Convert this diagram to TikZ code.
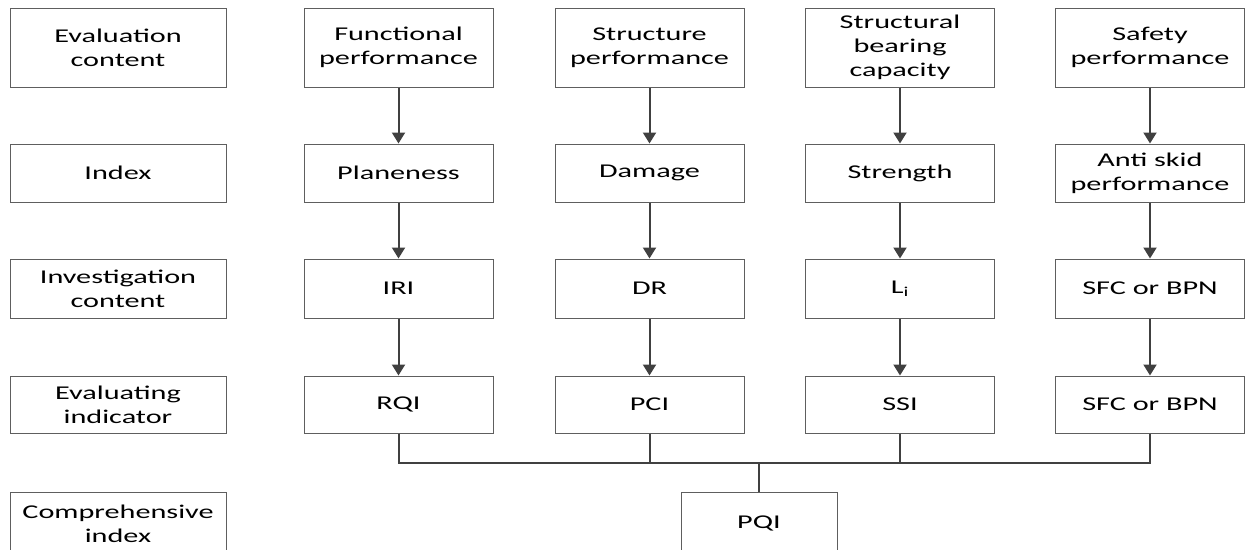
\documentclass[tikz,border=0pt]{standalone}
\usepackage{fontspec}
\setmainfont{Carlito}[FakeStretch=1.55]
\usetikzlibrary{arrows.meta}
\definecolor{boxgray}{HTML}{5E5E5E}
\definecolor{linegray}{HTML}{404040}

\begin{document}
\begin{tikzpicture}[x=1pt,y=-1pt,
    box/.style={draw=boxgray,line width=1pt,minimum width=189pt,inner sep=0pt,
      align=center,font=\fontsize{19.5}{24}\selectfont},
    headbox/.style={box,minimum width=216pt},
    link/.style={draw=linegray,line width=2pt,-{Triangle[length=11pt,width=13pt]}},
    bus/.style={draw=linegray,line width=2pt}
  ]
  \useasboundingbox (0,0) rectangle (1245,549);

  % row titles on the left
  \foreach \y/\h/\lab [count=\r] in {47.5/79/{Evaluation\\content},173/58/{Index},
      288.5/59/{Investigation\\content},404.5/57/{Evaluating\\indicator},
      523.5/63/{Comprehensive\\index}} {
      \node[headbox,minimum height=\h pt] (h\r) at (118,\y) {\lab};
    }

  % one column per aspect
  \foreach \x/\ca/\cb/\cc/\cd [count=\i] in {
      398.5/{Functional\\performance}/{Planeness}/{IRI}/{RQI},
      649.5/{Structure\\performance}/{Damage}/{DR}/{PCI},
      900/{Structural\\bearing\\capacity}/{Strength}/{L\textsubscript{i}}/{SSI},
      1150/{Safety\\performance}/{Anti skid\\performance}/{SFC or BPN}/{SFC or BPN}} {
      \node[box,minimum height=79pt] (c\i) at (\x,47.5) {\ca};
      \node[box,minimum height=58pt] (x\i) at (\x,173) {\cb};
      \node[box,minimum height=59pt] (v\i) at (\x,288.5) {\cc};
      \node[box,minimum height=57pt] (e\i) at (\x,404.5) {\cd};
      \draw[link] (c\i) -- (x\i);
      \draw[link] (x\i) -- (v\i);
      \draw[link] (v\i) -- (e\i);
    }

  \node[box,minimum width=156pt,minimum height=63pt] (pqi) at (759,523.5) {PQI};

  % collecting bus
  \coordinate (b) at (759,463);
  \draw[bus] (e1.south) |- (e4.south |- b) -- (e4.south);
  \foreach \i in {2,3}
    \draw[bus] (e\i.south) -- (e\i.south |- b);
  \draw[bus] (b) -- (pqi.north);
\end{tikzpicture}
\end{document}
